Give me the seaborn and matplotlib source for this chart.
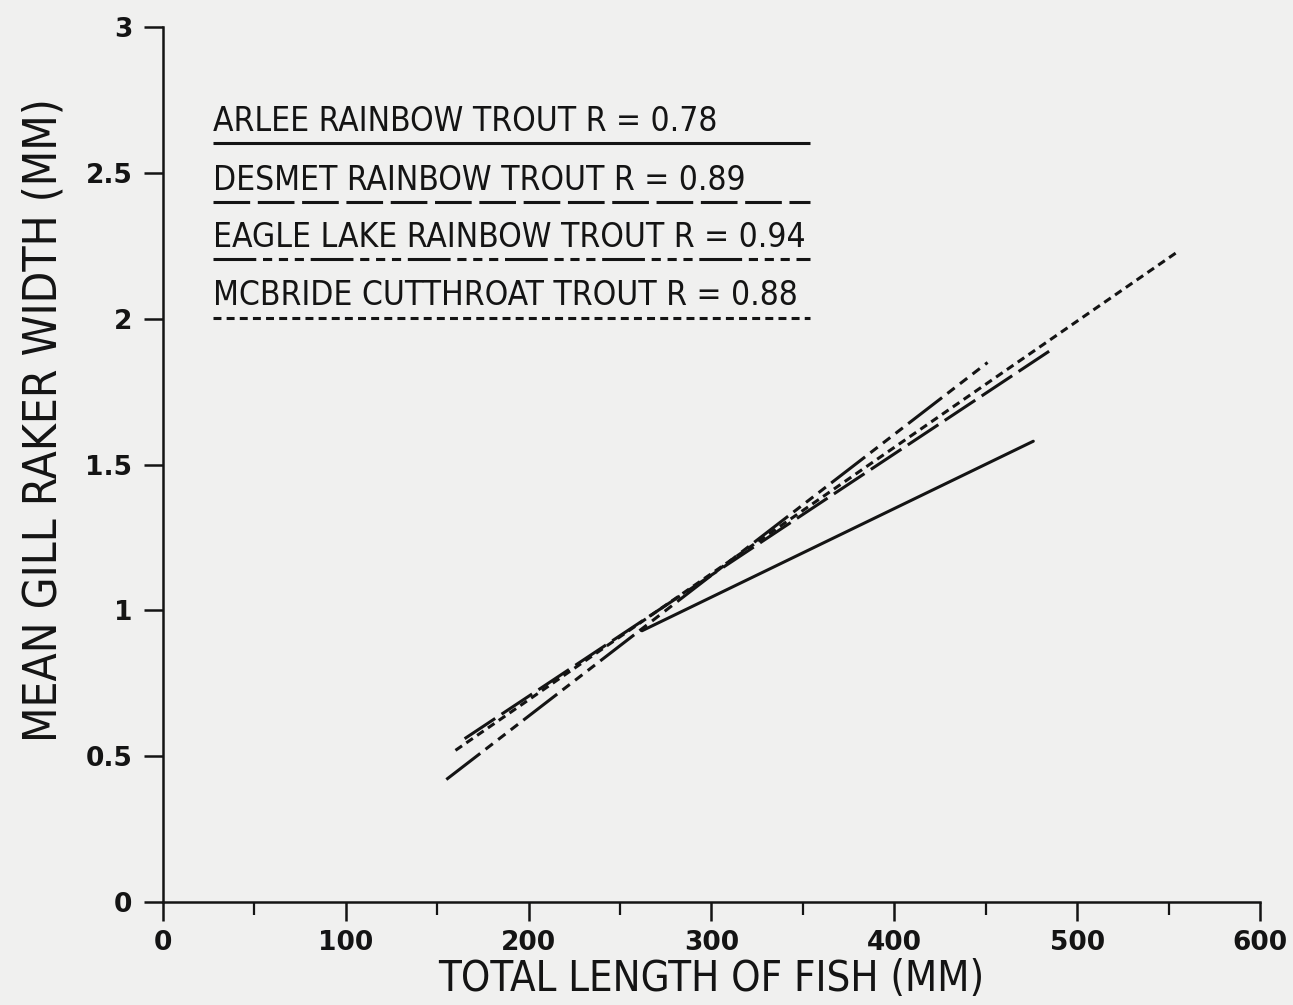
import pandas as pd
import matplotlib.pyplot as plt
import seaborn as sns

# Regression lines (endpoints of each fitted line)
species = ['ARLEE RAINBOW TROUT', 'DESMET RAINBOW TROUT',
           'EAGLE LAKE RAINBOW TROUT', 'MCBRIDE CUTTHROAT TROUT']
r_values = [0.78, 0.89, 0.94, 0.88]
x_start = [262, 165, 155, 160]
x_end = [476, 485, 451, 555]
y_start = [0.93, 0.56, 0.42, 0.52]
y_end = [1.58, 1.89, 1.85, 2.23]

x_ticks = [0, 100, 200, 300, 400, 500, 600]
y_ticks = [0, 0.5, 1, 1.5, 2, 2.5, 3]
y_tick_labels = ['0', '0.5', '1', '1.5', '2', '2.5', '3']

rows = []
for name, x0, x1, y0, y1 in zip(species, x_start, x_end, y_start, y_end):
    rows.append({'species': name, 'length': x0, 'width': y0})
    rows.append({'species': name, 'length': x1, 'width': y1})
df = pd.DataFrame(rows)

ink = '#141414'
paper = '#f0f0ef'
dash_styles = {
    species[0]: '',
    species[1]: (12, 2.5),
    species[2]: (14, 2.2, 3, 2.2, 3, 2.2, 3, 2.2),
    species[3]: (2.6, 1.7),
}

sns.set_theme(style='ticks')
plt.rcParams['font.family'] = ['DejaVu Sans']

fig = plt.figure(figsize=(12.93, 10.05), dpi=100, facecolor=paper)
ax = fig.add_axes([0.126, 0.1025, 0.8485, 0.8705])
ax.set_facecolor(paper)

sns.lineplot(data=df, x='length', y='width', style='species', dashes=dash_styles,
             color=ink, linewidth=2.2, legend=False, ax=ax, estimator=None, sort=False)

# legend: label text with the line style drawn underneath
legend_y = [0.867, 0.800, 0.735, 0.668]
for name, r, ly in zip(species, r_values, legend_y):
    ax.text(0.046, ly + 0.006, f'{name} R = {r:.2f}', transform=ax.transAxes,
            fontsize=24, fontstretch='condensed', color=ink, ha='left', va='bottom')
    ax.plot([0.046, 0.59], [ly, ly], transform=ax.transAxes, color=ink,
            linewidth=2.2, dashes=dash_styles[name] if dash_styles[name] else (None, None),
            solid_capstyle='butt')

ax.set_xlim(0, 600)
ax.set_ylim(0, 3)
ax.set_xticks(x_ticks)
ax.set_xticks([50, 150, 250, 350, 450, 550], minor=True)
ax.set_yticks(y_ticks)
ax.set_yticklabels(y_tick_labels)
ax.tick_params(axis='both', which='major', length=14, width=1.8, color=ink,
               labelsize=19, labelcolor=ink, pad=8)
ax.tick_params(axis='x', which='major', pad=6)
ax.tick_params(axis='x', which='minor', length=9, width=1.6, color=ink)
for lbl in ax.get_xticklabels() + ax.get_yticklabels():
    lbl.set_fontweight('bold')

ax.set_xlabel('TOTAL LENGTH OF FISH (MM)', fontsize=30, fontstretch='condensed',
              color=ink)
ax.set_ylabel('MEAN GILL RAKER WIDTH (MM)', fontsize=33, fontstretch='condensed',
              color=ink)
ax.xaxis.set_label_coords(0.5, -0.064, transform=ax.transAxes)
ax.yaxis.set_label_coords(-0.088, 0.551, transform=ax.transAxes)
ax.xaxis.label.set_va('top')

for side in ['top', 'right']:
    ax.spines[side].set_visible(False)
for side in ['left', 'bottom']:
    ax.spines[side].set_linewidth(1.8)
    ax.spines[side].set_color(ink)

plt.savefig('out.png', dpi=100, facecolor=paper)
plt.close()
